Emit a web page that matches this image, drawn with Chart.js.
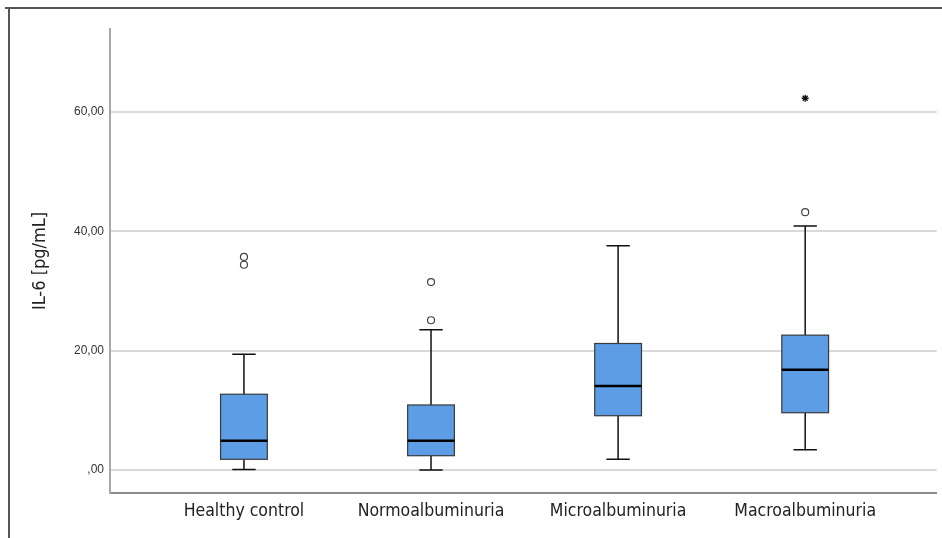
<!DOCTYPE html>
<html><head><meta charset="utf-8">
<script src="https://cdn.jsdelivr.net/npm/chart.js@4/dist/chart.umd.min.js"></script>
<style>html,body{margin:0;padding:0;background:#fff}#wrap{width:942px;height:538px;position:relative}</style>
</head><body><div id="wrap"><canvas id="c" width="942" height="538"></canvas></div>
<script>
const categories = ["Healthy control", "Normoalbuminuria", "Microalbuminuria", "Macroalbuminuria"];
const whiskerLow = [0.1, 0.0, 1.8, 3.4];
const q1 = [1.8, 2.4, 9.1, 9.6];
const median = [4.9, 4.9, 14.1, 16.8];
const q3 = [12.7, 10.9, 21.2, 22.6];
const whiskerHigh = [19.4, 23.5, 37.6, 40.9];
const outlierCircles = [[35.7, 34.4], [31.5, 25.1], [], [43.2]];
const extremeStars = [[], [], [], [62.3]];
const yTicks = [0, 20, 40, 60];
const yTitle = "IL-6 [pg/mL]";

const circlePts = [];
outlierCircles.forEach((arr, i) => arr.forEach(v => circlePts.push({x: i, y: v})));
const starPts = [];
extremeStars.forEach((arr, i) => arr.forEach(v => starPts.push({x: i, y: v})));

const fmt = v => {
  const s = v.toFixed(2).replace('.', ',');
  return s.startsWith('0,') ? s.slice(1) : s;
};

const boxPlugin = {
  id: 'boxes',
  beforeDraw(chart) {
    const ctx = chart.ctx;
    ctx.save();
    ctx.strokeStyle = '#555';
    ctx.lineWidth = 2;
    ctx.beginPath();
    ctx.moveTo(5, 8); ctx.lineTo(942, 8);
    ctx.moveTo(9, 8); ctx.lineTo(9, 538);
    ctx.stroke();
    ctx.restore();
  },
  afterDatasetsDraw(chart) {
    const ctx = chart.ctx;
    const xs = chart.scales.x, ys = chart.scales.y;
    const unit = xs.getPixelForValue(1) - xs.getPixelForValue(0);
    const bw = unit * 0.25, cw = unit * 0.125;
    ctx.save();
    categories.forEach((c, i) => {
      const cx = xs.getPixelForValue(i);
      const yLo = ys.getPixelForValue(whiskerLow[i]);
      const yHi = ys.getPixelForValue(whiskerHigh[i]);
      const yQ1 = ys.getPixelForValue(q1[i]);
      const yQ3 = ys.getPixelForValue(q3[i]);
      const yMed = ys.getPixelForValue(median[i]);
      ctx.strokeStyle = '#111';
      ctx.lineWidth = 1.5;
      ctx.beginPath();
      ctx.moveTo(cx, yHi); ctx.lineTo(cx, yQ3);
      ctx.moveTo(cx, yQ1); ctx.lineTo(cx, yLo);
      ctx.moveTo(cx - cw/2, yHi); ctx.lineTo(cx + cw/2, yHi);
      ctx.moveTo(cx - cw/2, yLo); ctx.lineTo(cx + cw/2, yLo);
      ctx.stroke();
      ctx.fillStyle = '#5d9de6';
      ctx.fillRect(cx - bw/2, yQ3, bw, yQ1 - yQ3);
      ctx.strokeStyle = '#3a3a3a';
      ctx.lineWidth = 1.2;
      ctx.strokeRect(cx - bw/2, yQ3, bw, yQ1 - yQ3);
      ctx.strokeStyle = '#000';
      ctx.lineWidth = 2.5;
      ctx.beginPath();
      ctx.moveTo(cx - bw/2, yMed); ctx.lineTo(cx + bw/2, yMed);
      ctx.stroke();
    });
    ctx.restore();
  }
};

new Chart(document.getElementById('c'), {
  type: 'scatter',
  data: {
    datasets: [
      {data: circlePts, pointStyle: 'circle', pointRadius: 3.5, borderColor: '#444', backgroundColor: '#fff', borderWidth: 1.2},
      {data: starPts, pointStyle: 'star', pointRadius: 3.5, borderColor: '#111', backgroundColor: '#111', borderWidth: 1.3}
    ]
  },
  options: {
    responsive: false,
    animation: false,
    devicePixelRatio: 1,
    layout: {padding: {left: 0, top: 29, right: 0, bottom: 0}},
    plugins: {legend: {display: false}, tooltip: {enabled: false}},
    scales: {
      x: {
        type: 'linear', min: -0.716, max: 3.703,
        afterBuildTicks: s => { s.ticks = categories.map((c, i) => ({value: i})); },
        afterFit: s => { s.height = 45; },
        ticks: {
          callback: v => categories[v] ?? '',
          color: '#222', font: {family: '"Liberation Sans Narrow", "DejaVu Sans Condensed", sans-serif', size: 17.5},
          maxRotation: 0, autoSkip: false, padding: 8
        },
        grid: {display: false, drawTicks: false},
        border: {display: true, color: '#8c8c8c', width: 2}
      },
      y: {
        type: 'linear', min: -3.85, max: 73.9,
        afterBuildTicks: s => { s.ticks = yTicks.map(v => ({value: v})); },
        afterFit: s => { s.width = 110; },
        ticks: {
          callback: v => fmt(v),
          color: '#333', font: {family: '"Liberation Sans", Arial, sans-serif', size: 12}, padding: 6
        },
        grid: {color: '#d9d9d9', lineWidth: 2, drawTicks: false},
        border: {display: true, color: '#a8a8a8', width: 2},
        title: {display: true, text: yTitle, color: '#222', font: {family: '"Liberation Sans Narrow", "DejaVu Sans Condensed", sans-serif', size: 18}, padding: {top: 30, bottom: 0}}
      }
    }
  },
  plugins: [boxPlugin]
});
</script></body></html>
